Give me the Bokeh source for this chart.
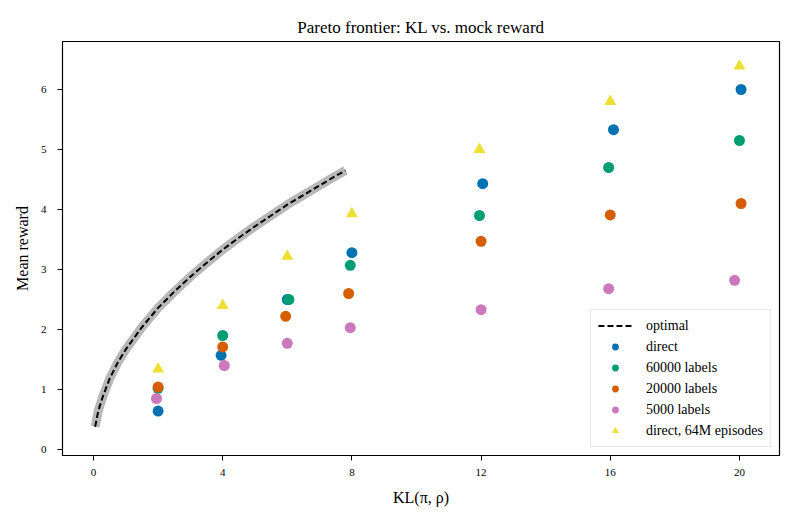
from bokeh.plotting import figure
from bokeh.models import FixedTicker, Range1d, Legend, LegendItem
from bokeh.embed import file_html
from bokeh.resources import INLINE

# ---- data ----
opt_kl = [0.05, 0.15, 0.3, 0.5, 0.75, 1.0, 1.5, 2.0, 2.5, 3.0, 3.5, 4.0, 4.5, 5.0, 5.5, 6.0, 6.5, 7.0, 7.5, 7.8]
opt_reward = [0.38, 0.65, 0.90, 1.18, 1.45, 1.67, 2.04, 2.36, 2.63, 2.88, 3.11, 3.33, 3.53, 3.72, 3.90, 4.08, 4.24, 4.40, 4.56, 4.65]

direct_kl = [2, 3.95, 6, 8, 12.05, 16.1, 20.05]
direct_reward = [0.64, 1.57, 2.50, 3.28, 4.43, 5.33, 6.00]

l60k_kl = [2, 4, 6.05, 7.95, 11.95, 15.95, 20]
l60k_reward = [1.02, 1.90, 2.50, 3.07, 3.90, 4.70, 5.15]

l20k_kl = [2, 4, 5.95, 7.9, 12, 16, 20.05]
l20k_reward = [1.04, 1.71, 2.22, 2.60, 3.47, 3.91, 4.10]

l5k_kl = [1.95, 4.05, 6, 7.95, 12, 15.95, 19.85]
l5k_reward = [0.85, 1.40, 1.77, 2.03, 2.33, 2.68, 2.82]

d64m_kl = [2, 4, 6, 8, 11.95, 16, 20]
d64m_reward = [1.34, 2.40, 3.22, 3.93, 5.00, 5.80, 6.39]

x_ticks = [0, 4, 8, 12, 16, 20]
y_ticks = [0, 1, 2, 3, 4, 5, 6]

FONT = "Liberation Serif"

p = figure(width=794, height=516, output_backend="svg", toolbar_location=None,
           title="Pareto frontier: KL vs. mock reward",
           x_range=Range1d(-0.96, 21.24), y_range=Range1d(-0.1, 6.8),
           min_border_left=62, min_border_right=15, min_border_top=41, min_border_bottom=61)

p.title.align = "center"
p.title.text_font = FONT
p.title.text_font_size = "17px"
p.title.text_font_style = "normal"
p.title.text_color = "black"
p.title.standoff = 10

p.xgrid.visible = False
p.ygrid.visible = False
p.outline_line_color = "black"
p.outline_line_width = 1.2
p.background_fill_color = "white"
p.border_fill_color = "white"

for ax in (p.xaxis[0], p.yaxis[0]):
    ax.major_label_text_font = FONT
    ax.major_label_text_font_size = "11px"
    ax.major_label_text_color = "black"
    ax.axis_label_text_font = FONT
    ax.axis_label_text_font_size = "16px"
    ax.axis_label_text_font_style = "normal"
    ax.axis_label_text_color = "black"
    ax.minor_tick_line_color = None
    ax.major_tick_out = 5
    ax.major_tick_in = 0
    ax.axis_line_color = "black"
    ax.major_tick_line_color = "black"

p.xaxis.ticker = FixedTicker(ticks=x_ticks)
p.yaxis.ticker = FixedTicker(ticks=y_ticks)
p.xaxis.axis_label = "KL(π, ρ)"
p.yaxis.axis_label = "Mean reward"
p.xaxis.major_label_standoff = 8
p.yaxis.major_label_standoff = 11
p.xaxis.axis_label_standoff = 10
p.yaxis.axis_label_standoff = 7

# optimal frontier with gray band
p.line(opt_kl, opt_reward, line_color="#b8b8b8", line_width=9, line_cap="butt")
opt = p.line(opt_kl, opt_reward, line_color="black", line_width=2, line_dash="6 3")

S = 11
r_direct = p.scatter(direct_kl, direct_reward, marker="circle", size=S, color="#0173b2", line_color=None)
r_60k = p.scatter(l60k_kl, l60k_reward, marker="circle", size=S, color="#029e73", line_color=None)
r_20k = p.scatter(l20k_kl, l20k_reward, marker="circle", size=S, color="#d55e00", line_color=None)
r_5k = p.scatter(l5k_kl, l5k_reward, marker="circle", size=S, color="#cc78bc", line_color=None)
r_64m = p.scatter(d64m_kl, d64m_reward, marker="triangle", size=S + 1, color="#ece133", line_color=None)

legend = Legend(items=[
    LegendItem(label="optimal", renderers=[opt]),
    LegendItem(label="direct", renderers=[r_direct]),
    LegendItem(label="60000 labels", renderers=[r_60k]),
    LegendItem(label="20000 labels", renderers=[r_20k]),
    LegendItem(label="5000 labels", renderers=[r_5k]),
    LegendItem(label="direct, 64M episodes", renderers=[r_64m]),
], location="bottom_right")
legend.label_text_font = FONT
legend.label_text_font_size = "14px"
legend.label_text_color = "black"
legend.border_line_color = "#d0d0d0"
legend.border_line_width = 1
legend.background_fill_alpha = 0.9
legend.glyph_width = 34
legend.glyph_height = 17
legend.label_height = 17
legend.spacing = 4
legend.padding = 7
legend.margin = 8
legend.label_standoff = 14
p.add_layout(legend)

open("out.html", "w").write(file_html(p, INLINE))
